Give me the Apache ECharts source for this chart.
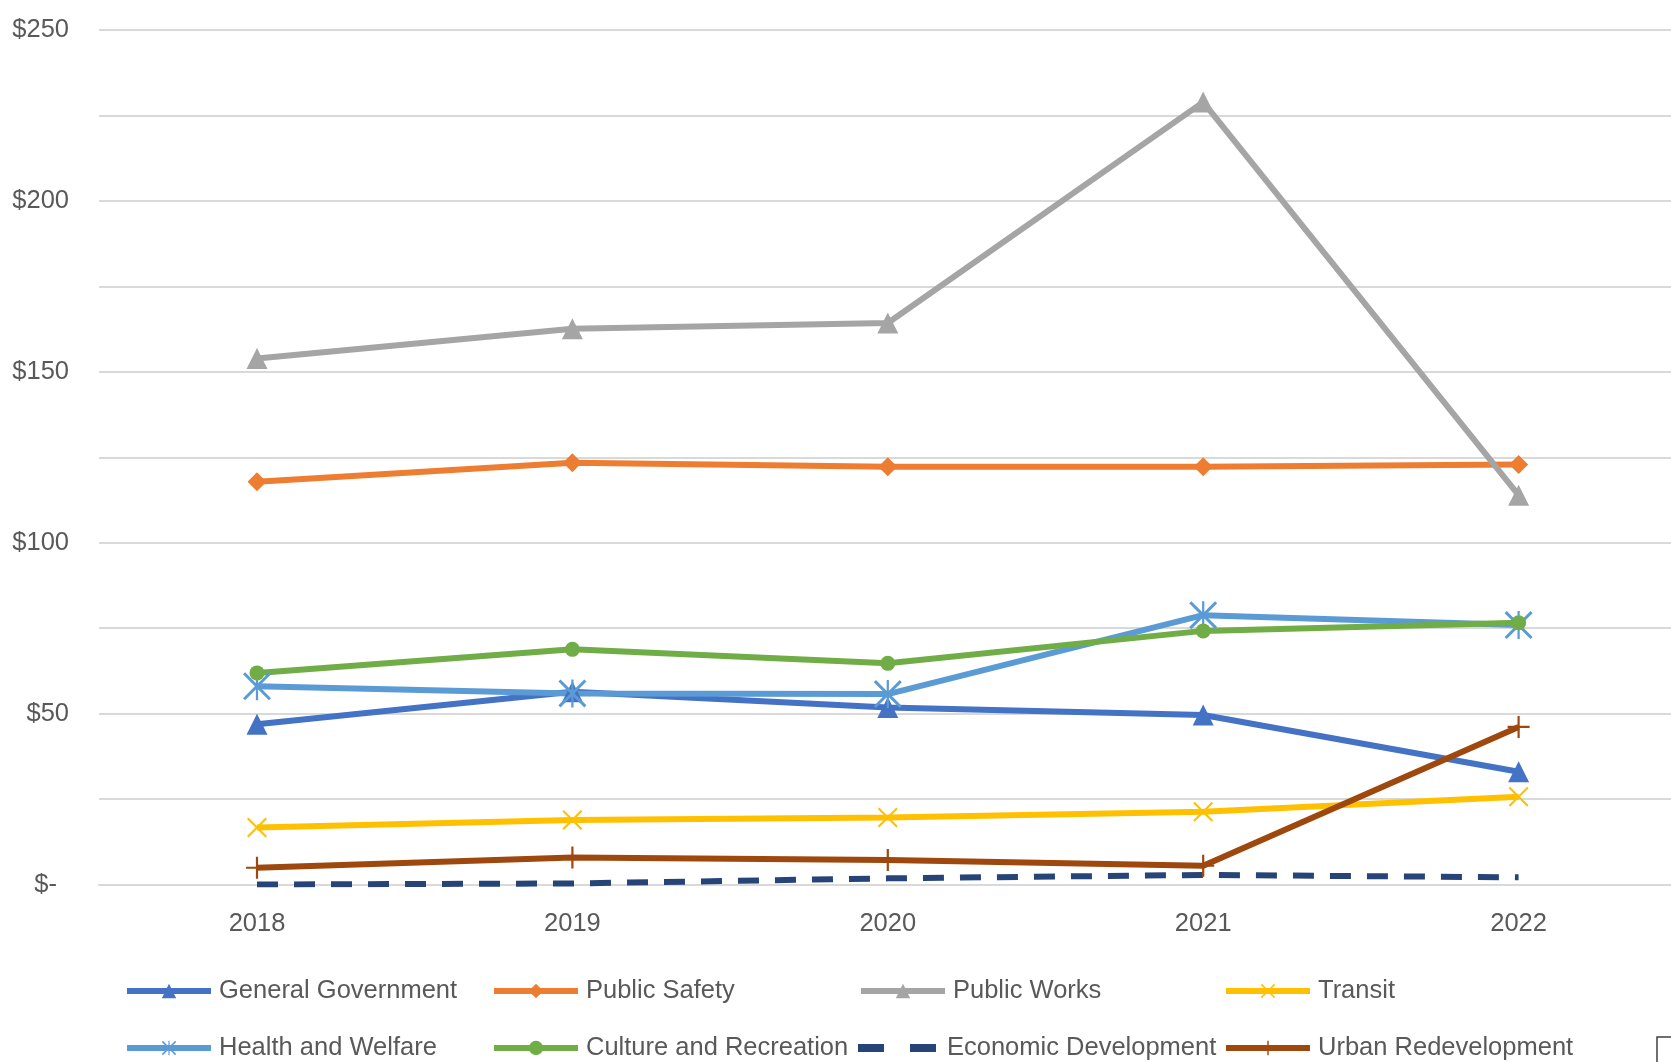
<!DOCTYPE html>
<html><head><meta charset="utf-8">
<script src="https://cdn.jsdelivr.net/npm/echarts@6/dist/echarts.min.js"></script>
<style>html,body{margin:0;padding:0;background:#fff}#c{width:1671px;height:1062px}</style>
</head><body><div id="c"></div>
<script>
const years = ['2018','2019','2020','2021','2022'];
const generalGovernment = [46.9, 56.4, 51.8, 49.6, 33.0];
const publicSafety = [117.8, 123.4, 122.2, 122.2, 122.9];
const publicWorks = [153.9, 162.6, 164.3, 228.9, 113.9];
const transit = [16.7, 18.9, 19.6, 21.3, 25.7];
const healthWelfare = [58.0, 55.9, 55.7, 78.8, 75.9];
const cultureRecreation = [61.9, 68.8, 64.7, 74.2, 76.6];
const economicDevelopment = [0.0, 0.3, 1.8, 2.8, 2.1];
const urbanRedevelopment = [4.9, 7.9, 7.2, 5.5, 46.1];
const yTicks = [0, 50, 100, 150, 200, 250];

const FONT = "'Liberation Sans Narrow','Liberation Sans',Arial,sans-serif";
const FS = 25.5;
const TXT = '#595959';
const xPath = 'path://M0,1.5L1.5,0L10,8.5L18.5,0L20,1.5L11.5,10L20,18.5L18.5,20L10,11.5L1.5,20L0,18.5L8.5,10Z';
const starPath = 'path://M0,1.5L1.5,0L10,8.5L18.5,0L20,1.5L11.5,10L20,18.5L18.5,20L10,11.5L1.5,20L0,18.5L8.5,10ZM9.2,0H10.8V20H9.2Z';
const plusPath = 'path://M9,0H11V9H20V11H11V20H9V11H0V9H9Z';
const dashIcon = 'path://M0,0H26V8H0ZM52,0H78V8H52Z';

function mk(name, data, color, symbol, size, extra) {
  return Object.assign({
    name, type: 'line', data, symbol, symbolSize: size, showSymbol: true,
    xAxisIndex: 1, yAxisIndex: 1,
    lineStyle: {color, width: 6}, itemStyle: {color},
    emphasis: {disabled: true}, animation: false
  }, extra || {});
}
const series = [
  mk('General Government', generalGovernment, '#4472C4', 'triangle', 21),
  mk('Public Safety', publicSafety, '#ED7D31', 'diamond', 19),
  mk('Public Works', publicWorks, '#A5A5A5', 'triangle', 21),
  mk('Transit', transit, '#FFC000', xPath, 20),
  mk('Health and Welfare', healthWelfare, '#5B9BD5', starPath, 28),
  mk('Culture and Recreation', cultureRecreation, '#70AD47', 'circle', 15),
  mk('Economic Development', economicDevelopment, '#264478', 'none', 0,
     {lineStyle: {color: '#264478', width: 6, type: [21, 16]}}),
  mk('Urban Redevelopment', urbanRedevelopment, '#9E480E', plusPath, 22)
];
const colX = [124, 491, 858, 1223];
const rowY = [978, 1035];
const legends = series.map((s, i) => {
  const item = {name: s.name};
  if (s.name === 'Economic Development') item.icon = dashIcon;
  return {
    data: [item], left: colX[i % 4], top: rowY[Math.floor(i / 4)],
    itemWidth: 84, itemHeight: s.name === 'Economic Development' ? 8 : 18, itemGap: 0, padding: 0,
    lineStyle: {width: 6},
    textStyle: {color: TXT, fontFamily: FONT, fontSize: FS, padding: [0, 0, 0, 3]},
    selectedMode: false
  };
});

const chart = echarts.init(document.getElementById('c'), null, {renderer: 'canvas'});
chart.setOption({
  backgroundColor: '#fff',
  animation: false,
  legend: legends,
  grid: [
    {left: 99, top: 30, right: 0, bottom: 177.5, containLabel: false},
    {left: 257, top: 30, right: 152.4, bottom: 177.5, containLabel: false}
  ],
  xAxis: [
    {
      gridIndex: 0, type: 'value', min: 0, max: 1,
      axisLine: {show: true, lineStyle: {color: '#d9d9d9', width: 2}},
      axisTick: {show: false}, axisLabel: {show: false}, splitLine: {show: false}
    },
    {
      gridIndex: 1, type: 'category', data: years, boundaryGap: false,
      axisLine: {show: false}, axisTick: {show: false}, splitLine: {show: false},
      axisLabel: {color: TXT, fontFamily: FONT, fontSize: FS, margin: 26}
    }
  ],
  yAxis: [
    {
      gridIndex: 0, type: 'value', min: 0, max: 250, interval: 25,
      axisLine: {show: false}, axisTick: {show: false},
      splitLine: {lineStyle: {color: '#d9d9d9', width: 2}},
      axisLabel: {
        color: TXT, fontFamily: FONT, fontSize: FS, margin: 30,
        formatter: v => {
          if (!yTicks.includes(v)) return '';
          return v === 0 ? '{z|$-}' : '$' + v;
        },
        rich: {z: {color: TXT, fontFamily: FONT, fontSize: FS, padding: [0, 12, 0, 0]}}
      }
    },
    {
      gridIndex: 1, type: 'value', min: 0, max: 250, interval: 25,
      axisLine: {show: false}, axisTick: {show: false},
      axisLabel: {show: false}, splitLine: {show: false}
    }
  ],
  graphic: [{
    type: 'polyline', silent: true,
    shape: {points: [[1657, 1062], [1657, 1037], [1671, 1037]]},
    style: {stroke: '#404040', lineWidth: 1.5, fill: null}
  }],
  series
});
</script></body></html>
